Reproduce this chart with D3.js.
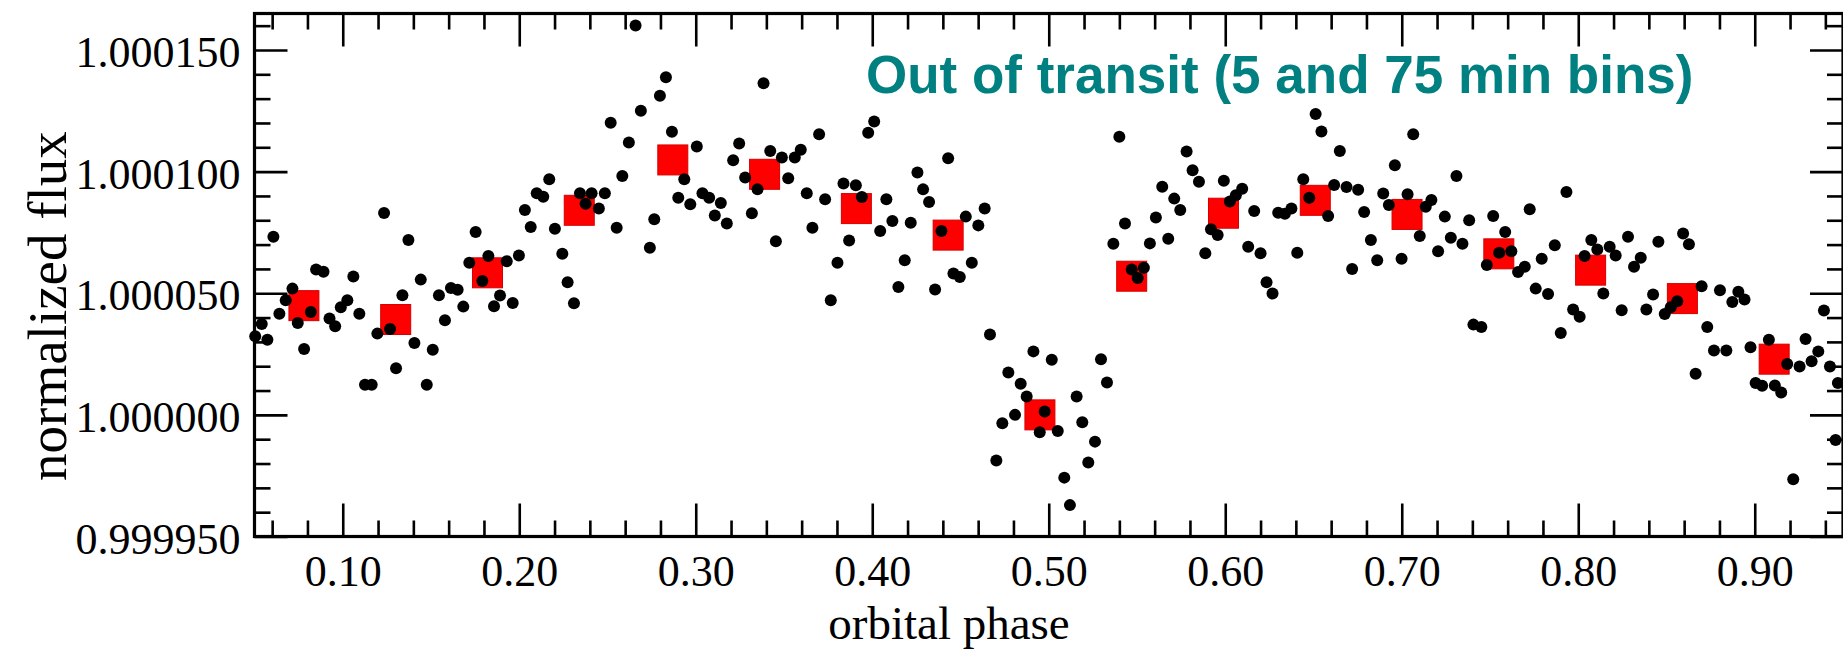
<!DOCTYPE html>
<html>
<head>
<meta charset="utf-8">
<script src="https://cdn.jsdelivr.net/npm/d3@7"></script>
<style>
  html, body { margin: 0; padding: 0; background: #fff; }
  svg { display: block; }
</style>
</head>
<body>
<svg id="chart" width="1843" height="656"></svg>
<script>
// 5-minute bins: orbital phase and flux deviation (ppm above 1.000000)
const phase5 = [
  0.0504, 0.0541, 0.0573, 0.0607, 0.0641, 0.0677, 0.0715, 0.0745, 0.0781, 0.0819,
  0.0849, 0.0891, 0.0925, 0.0957, 0.0989, 0.1026, 0.1060, 0.1094, 0.1126, 0.1164,
  0.1196, 0.1234, 0.1268, 0.1302, 0.1338, 0.1372, 0.1406, 0.1442, 0.1476, 0.1510,
  0.1545, 0.1579, 0.1613, 0.1651, 0.1683, 0.1717, 0.1753, 0.1791, 0.1825, 0.1857,
  0.1891, 0.1929, 0.1963, 0.1998, 0.2032, 0.2065, 0.2099, 0.2136, 0.2170, 0.2202,
  0.2244, 0.2274, 0.2310, 0.2344, 0.2376, 0.2410, 0.2451, 0.2485, 0.2518, 0.2552,
  0.2584, 0.2621, 0.2659, 0.2689, 0.2740, 0.2765, 0.2797, 0.2831, 0.2865, 0.2901,
  0.2935, 0.2969, 0.3006, 0.3038, 0.3076, 0.3108, 0.3142, 0.3176, 0.3212, 0.3246,
  0.3280, 0.3318, 0.3350, 0.3384, 0.3422, 0.3454, 0.3488, 0.3524, 0.3561, 0.3595,
  0.3629, 0.3661, 0.3699, 0.3733, 0.3765, 0.3803, 0.3837, 0.3869, 0.3907, 0.3941,
  0.3977, 0.4011, 0.4045, 0.4080, 0.4114, 0.4148, 0.4184, 0.4218, 0.4256, 0.4288,
  0.4322, 0.4356, 0.4392, 0.4430, 0.4460, 0.4496, 0.4530, 0.4564, 0.4601, 0.4637,
  0.4667, 0.4703, 0.4737, 0.4771, 0.4809, 0.4841, 0.4875, 0.4913, 0.4949, 0.4977,
  0.5017, 0.5051, 0.5088, 0.5120, 0.5158, 0.5190, 0.5224, 0.5262, 0.5296, 0.5330,
  0.5366, 0.5400, 0.5432, 0.5470, 0.5504, 0.5539, 0.5573, 0.5607, 0.5643, 0.5677,
  0.5711, 0.5745, 0.5781, 0.5815, 0.5851, 0.5887, 0.5919, 0.5957, 0.5992, 0.6026,
  0.6060, 0.6096, 0.6130, 0.6164, 0.6200, 0.6234, 0.6268, 0.6300, 0.6338, 0.6375,
  0.6408, 0.6442, 0.6476, 0.6512, 0.6545, 0.6583, 0.6617, 0.6649, 0.6687, 0.6719,
  0.6753, 0.6787, 0.6825, 0.6861, 0.6895, 0.6927, 0.6961, 0.6999, 0.7033, 0.7065,
  0.7102, 0.7136, 0.7168, 0.7206, 0.7244, 0.7278, 0.7310, 0.7344, 0.7382, 0.7406,
  0.7451, 0.7482, 0.7518, 0.7552, 0.7586, 0.7621, 0.7659, 0.7697, 0.7725, 0.7759,
  0.7793, 0.7829, 0.7867, 0.7901, 0.7933, 0.7971, 0.8008, 0.8036, 0.8074, 0.8108,
  0.8142, 0.8178, 0.8212, 0.8246, 0.8282, 0.8316, 0.8354, 0.8386, 0.8424, 0.8454,
  0.8490, 0.8524, 0.8561, 0.8594, 0.8627, 0.8665, 0.8699, 0.8731, 0.8769, 0.8803,
  0.8839, 0.8873, 0.8907, 0.8942, 0.8976, 0.9005, 0.9042, 0.9080, 0.9114, 0.9150,
  0.9184, 0.9218, 0.9254, 0.9288, 0.9322, 0.9360, 0.9392, 0.9426, 0.9458, 0.9471
];
const flux5 = [
  32.3, 37.4, 30.9, 73.2, 41.6, 47.1, 51.9, 37.8, 27.1, 42.3,
  59.8, 58.8, 39.6, 36.4, 44.2, 47.1, 56.9, 41.6, 12.4, 12.4,
  33.4, 83.0, 35.3, 19.2, 49.2, 71.9, 29.5, 55.6, 12.4, 26.8,
  49.2, 38.9, 52.2, 51.4, 44.5, 62.5, 75.2, 55.0, 65.3, 44.7,
  49.1, 63.2, 46.0, 65.5, 84.2, 77.2, 91.1, 89.7, 96.9, 76.5,
  66.2, 54.5, 45.9, 91.1, 86.8, 91.1, 84.8, 91.1, 120.1, 76.9,
  98.2, 112.0, 160.1, 125.0, 68.7, 80.4, 131.2, 138.8, 116.4, 89.3,
  96.9, 86.6, 110.3, 91.1, 89.3, 82.0, 87.1, 78.7, 104.7, 111.6,
  97.6, 82.9, 92.7, 136.3, 108.5, 71.4, 105.8, 97.3, 105.8, 109.0,
  91.1, 76.9, 115.4, 88.6, 47.1, 62.5, 95.1, 71.7, 94.4, 89.6,
  116.0, 120.6, 75.6, 88.6, 79.7, 52.6, 63.6, 79.0, 99.6, 92.7,
  87.5, 51.5, 75.6, 105.5, 58.1, 56.7, 81.5, 62.5, 77.9, 84.8,
  33.0, -18.8, -3.4, 17.4, 0.0, 12.8, 7.6, 26.1, -7.1, 1.4,
  22.7, -6.6, -25.8, -37.1, 7.6, -3.0, -19.6, -11.0, 22.9, 13.3,
  70.3, 114.3, 78.7, 59.8, 56.3, 60.5, 70.5, 81.1, 93.8, 72.4,
  88.9, 84.2, 108.3, 100.6, 95.8, 66.4, 76.3, 73.9, 96.2, 87.7,
  90.3, 93.0, 69.1, 83.8, 66.4, 54.5, 49.9, 83.1, 82.7, 84.8,
  66.6, 96.9, 89.3, 123.7, 116.5, 81.8, 94.5, 108.5, 93.7, 60.0,
  92.5, 83.4, 71.9, 63.6, 91.0, 86.3, 102.6, 64.2, 90.7, 115.4,
  73.5, 85.6, 88.3, 67.3, 81.5, 72.8, 98.2, 70.3, 80.0, 37.1,
  36.1, 61.6, 81.8, 66.6, 75.2, 67.3, 58.7, 60.9, 84.5, 51.9,
  64.2, 49.7, 69.7, 33.7, 91.6, 43.3, 40.3, 65.3, 71.9, 68.0,
  49.9, 69.1, 65.5, 43.0, 73.2, 60.9, 64.6, 43.3, 49.5, 71.2,
  41.5, 44.2, 46.7, 74.6, 70.1, 16.9, 52.9, 36.1, 26.5, 51.2,
  26.5, 46.4, 50.6, 47.4, 27.8, 13.1, 12.0, 30.9, 12.1, 9.2,
  20.9, -26.5, 19.9, 31.2, 22.0, 26.1, 42.9, 19.9, -10.3, 13.1
];

// 75-minute bins
const phase75 = [0.078, 0.130, 0.182, 0.234, 0.287, 0.339, 0.391, 0.443, 0.495,
                 0.547, 0.599, 0.651, 0.703, 0.755, 0.807, 0.859, 0.911];
const flux75 = [44.9, 39.2, 58.4, 84.1, 104.8, 98.9, 84.8, 73.9, 0.0,
                57.0, 82.9, 88.2, 82.4, 66.2, 59.5, 47.8, 22.9];

// Axis ticks
const xTickValues = [0.10, 0.20, 0.30, 0.40, 0.50, 0.60, 0.70, 0.80, 0.90];
const xTickLabels = ["0.10", "0.20", "0.30", "0.40", "0.50", "0.60", "0.70", "0.80", "0.90"];
const xMinorValues = [0.06, 0.08, 0.12, 0.14, 0.16, 0.18, 0.22, 0.24, 0.26, 0.28,
                      0.32, 0.34, 0.36, 0.38, 0.42, 0.44, 0.46, 0.48, 0.52, 0.54,
                      0.56, 0.58, 0.62, 0.64, 0.66, 0.68, 0.72, 0.74, 0.76, 0.78,
                      0.82, 0.84, 0.86, 0.88, 0.92, 0.94];
const yTickValues = [-50, 0, 50, 100, 150];
const yTickLabels = ["0.999950", "1.000000", "1.000050", "1.000100", "1.000150"];
const yMinorValues = [-40, -30, -20, -10, 10, 20, 30, 40, 60, 70, 80, 90,
                      110, 120, 130, 140, 160];

const svg = d3.select("#chart");
const plotLeft = 254.5, plotRight = 1843, plotTop = 13.5, plotBottom = 536.5;

const x = d3.scaleLinear().domain([0.05, 0.95]).range([plotLeft, plotRight]);
const y = d3.scaleLinear().domain([-50, 165]).range([plotBottom, plotTop]);

const serif = "'Liberation Serif', 'Times New Roman', serif";

// binned means (drawn beneath the 5-min points)
const sq = 30;
svg.append("g").selectAll("rect")
  .data(phase75.map((p, i) => [p, flux75[i]]))
  .join("rect")
  .attr("x", d => x(d[0]) - sq / 2)
  .attr("y", d => y(d[1]) - sq / 2)
  .attr("width", sq).attr("height", sq)
  .attr("fill", "#ff0000")
  .attr("stroke", "#d40000").attr("stroke-width", 1);

// 5-min points
svg.append("g").selectAll("circle")
  .data(phase5.map((p, i) => [p, flux5[i]]))
  .join("circle")
  .attr("cx", d => x(d[0]))
  .attr("cy", d => y(d[1]))
  .attr("r", 6)
  .attr("fill", "#000");

// axes: inward ticks on all four sides
function styleAxis(g) {
  g.select(".domain").remove();
  g.selectAll(".tick line").attr("stroke", "#000").attr("stroke-width", 2.6);
  g.selectAll(".tick text").attr("fill", "#000")
    .style("font-family", serif).style("font-size", "44px");
}
const majorLen = 33, minorLen = 16;

svg.append("g").attr("transform", `translate(0,${plotBottom})`)
  .call(d3.axisBottom(x).tickValues(xTickValues).tickSize(-majorLen).tickPadding(18)
        .tickFormat((d, i) => xTickLabels[i]))
  .call(styleAxis);
svg.append("g").attr("transform", `translate(0,${plotBottom})`)
  .call(d3.axisBottom(x).tickValues(xMinorValues).tickSize(-minorLen).tickFormat(""))
  .call(styleAxis);
svg.append("g").attr("transform", `translate(0,${plotTop})`)
  .call(d3.axisTop(x).tickValues(xTickValues).tickSize(-majorLen).tickFormat(""))
  .call(styleAxis);
svg.append("g").attr("transform", `translate(0,${plotTop})`)
  .call(d3.axisTop(x).tickValues(xMinorValues).tickSize(-minorLen).tickFormat(""))
  .call(styleAxis);

svg.append("g").attr("transform", `translate(${plotLeft},0)`)
  .call(d3.axisLeft(y).tickValues(yTickValues).tickSize(-majorLen).tickPadding(14)
        .tickFormat((d, i) => yTickLabels[i]))
  .call(styleAxis)
  .call(g => g.selectAll(".tick text").attr("dy", "0.38em"));
svg.append("g").attr("transform", `translate(${plotLeft},0)`)
  .call(d3.axisLeft(y).tickValues(yMinorValues).tickSize(-minorLen).tickFormat(""))
  .call(styleAxis);
svg.append("g").attr("transform", `translate(${plotRight},0)`)
  .call(d3.axisRight(y).tickValues(yTickValues).tickSize(-majorLen).tickFormat(""))
  .call(styleAxis);
svg.append("g").attr("transform", `translate(${plotRight},0)`)
  .call(d3.axisRight(y).tickValues(yMinorValues).tickSize(-minorLen).tickFormat(""))
  .call(styleAxis);

// frame
svg.append("rect")
  .attr("x", plotLeft).attr("y", plotTop)
  .attr("width", plotRight - plotLeft).attr("height", plotBottom - plotTop)
  .attr("fill", "none").attr("stroke", "#000").attr("stroke-width", 3.2);

// axis titles
svg.append("text")
  .attr("x", 949).attr("y", 639)
  .attr("text-anchor", "middle")
  .style("font-family", serif).style("font-size", "47px")
  .text("orbital phase");

svg.append("text")
  .attr("transform", "translate(66,306) rotate(-90)")
  .attr("text-anchor", "middle")
  .style("font-family", serif).style("font-size", "55px")
  .text("normalized flux");

// panel label
svg.append("text")
  .attr("x", 866).attr("y", 93)
  .style("font-family", "'Liberation Sans', Arial, sans-serif")
  .style("font-weight", "bold").style("font-size", "53px")
  .attr("fill", "#008080")
  .text("Out of transit (5 and 75 min bins)");
</script>
</body>
</html>
